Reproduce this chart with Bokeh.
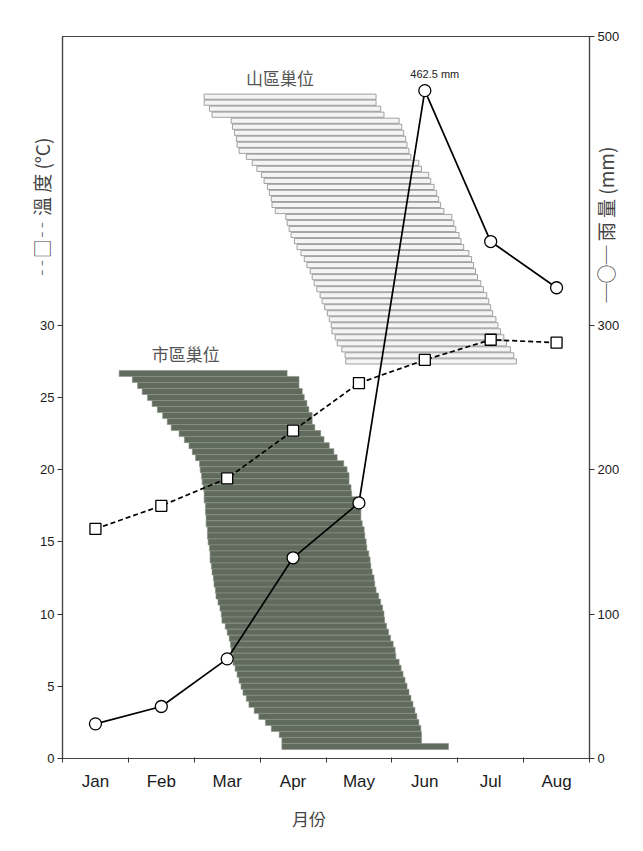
import numpy as np
from bokeh.plotting import figure
from bokeh.models import Range1d, LinearAxis, FixedTicker, Label, ColumnDataSource
from bokeh.embed import file_html
from bokeh.resources import INLINE

# ---------------- data ----------------
months = ["Jan", "Feb", "Mar", "Apr", "May", "Jun", "Jul", "Aug"]
temperature = [15.9, 17.5, 19.4, 22.7, 26.0, 27.6, 29.0, 28.8]      # deg C
rainfall = [24, 36, 69, 139, 177, 462.5, 358, 326]                   # mm

# nesting periods, in months since 1 Jan (top row first)
mountain_start = [2.15, 2.15, 2.23, 2.27, 2.56, 2.58, 2.61, 2.64, 2.65, 2.68,
                  2.79, 2.88, 2.95, 3.02, 3.06, 3.11, 3.14, 3.17, 3.18, 3.23,
                  3.39, 3.41, 3.44, 3.47, 3.52, 3.56, 3.62, 3.67, 3.71, 3.76,
                  3.79, 3.82, 3.86, 3.91, 3.94, 3.98, 4.02, 4.05, 4.08, 4.09,
                  4.14, 4.17, 4.24, 4.29, 4.30]
mountain_end = [4.76, 4.76, 4.83, 4.88, 5.11, 5.15, 5.18, 5.21, 5.23, 5.26,
                5.29, 5.41, 5.45, 5.56, 5.59, 5.64, 5.68, 5.71, 5.74, 5.79,
                5.91, 5.94, 5.97, 6.02, 6.05, 6.09, 6.17, 6.21, 6.24, 6.27,
                6.30, 6.35, 6.39, 6.44, 6.47, 6.50, 6.53, 6.58, 6.61, 6.65,
                6.70, 6.74, 6.80, 6.85, 6.89]
city_start = [0.86, 1.06, 1.14, 1.21, 1.29, 1.36, 1.44, 1.52, 1.59, 1.65,
              1.77, 1.85, 1.92, 1.97, 2.02, 2.08, 2.09, 2.11, 2.12, 2.14,
              2.15, 2.15, 2.17, 2.17, 2.18, 2.18, 2.20, 2.20, 2.21, 2.23,
              2.24, 2.24, 2.26, 2.27, 2.29, 2.30, 2.32, 2.33, 2.36, 2.39,
              2.41, 2.42, 2.47, 2.50, 2.53, 2.55, 2.56, 2.58, 2.59, 2.62,
              2.65, 2.68, 2.71, 2.74, 2.79, 2.83, 2.91, 2.98, 3.08, 3.17,
              3.29, 3.33, 3.33]
city_end = [3.41, 3.59, 3.59, 3.64, 3.67, 3.71, 3.74, 3.79, 3.79, 3.83,
            3.92, 3.97, 4.05, 4.12, 4.17, 4.27, 4.32, 4.35, 4.35, 4.38,
            4.39, 4.47, 4.50, 4.53, 4.53, 4.55, 4.58, 4.59, 4.61, 4.62,
            4.65, 4.67, 4.68, 4.70, 4.73, 4.74, 4.76, 4.80, 4.83, 4.86,
            4.88, 4.89, 4.92, 4.95, 4.98, 5.02, 5.05, 5.06, 5.11, 5.14,
            5.17, 5.20, 5.23, 5.26, 5.29, 5.32, 5.35, 5.38, 5.41, 5.44,
            5.45, 5.45, 5.86]

temp_ticks = [0, 5, 10, 15, 20, 25, 30]
rain_ticks = [0, 100, 200, 300, 500]

temp_title = "╌□╌ 溫 度 (°C)"
rain_title = "─○─ 雨 量 (mm)"
x_title = "月份"

LATIN = "Liberation Sans"
CJK = "Noto Sans CJK TC"
PAD = "\u3000"   # ideographic space, used to slide axis titles along their axis

# ---------------- figure ----------------
p = figure(width=640, height=845,
           x_range=Range1d(0, 8), y_range=Range1d(0, 50),
           output_backend="svg", toolbar_location=None,
           min_border_left=62, min_border_right=51,
           min_border_top=36, min_border_bottom=87,
           background_fill_color="white", border_fill_color="white",
           outline_line_color="#444444", outline_line_width=1.2)
p.extra_y_ranges = {"rain": Range1d(0, 500), "row": Range1d(0, 120)}
p.xgrid.visible = False
p.ygrid.visible = False

xpos = [i + 0.5 for i in range(len(months))]


def style_ticks(ax, size):
    ax.axis_line_color = "#444444"
    ax.axis_line_width = 1.2
    ax.major_label_text_font = LATIN
    ax.major_label_text_font_size = size
    ax.major_label_text_color = "#1a1a1a"


def title_axis(ax, text, standoff, size):
    ax.ticker = FixedTicker(ticks=[], minor_ticks=[])
    ax.axis_line_color = None
    ax.major_tick_line_color = None
    ax.minor_tick_line_color = None
    ax.major_label_text_font_size = "0px"
    ax.axis_label = text
    ax.axis_label_text_font = CJK
    ax.axis_label_text_font_size = size
    ax.axis_label_text_font_style = "normal"
    ax.axis_label_text_color = "#444444"
    ax.axis_label_standoff = standoff


# x axis: labels at month centres, ticks at month boundaries
xa = p.xaxis[0]
xa.ticker = FixedTicker(ticks=xpos, minor_ticks=list(range(len(months) + 1)))
xa.major_label_overrides = {x: m for x, m in zip(xpos, months)}
xa.major_tick_line_color = None
xa.major_tick_out = 0
xa.major_tick_in = 0
xa.minor_tick_out = 4
xa.minor_tick_in = 1
xa.minor_tick_line_color = "#333333"
xa.major_label_standoff = 9
style_ticks(xa, "17px")

# left axis: temperature
ya = p.yaxis[0]
ya.ticker = FixedTicker(ticks=temp_ticks, minor_ticks=[])
ya.major_tick_out = 5
ya.major_tick_in = 0
ya.major_tick_line_color = "#333333"
ya.major_label_standoff = 3
style_ticks(ya, "13px")

# right axis: rainfall
ra = LinearAxis(y_range_name="rain",
                ticker=FixedTicker(ticks=rain_ticks, minor_ticks=[]))
ra.major_tick_out = 5
ra.major_tick_in = 0
ra.major_tick_line_color = "#333333"
ra.major_label_standoff = 3
style_ticks(ra, "13px")
p.add_layout(ra, "right")

# titles (with line keys) on label-only axes
lt = LinearAxis()
title_axis(lt, PAD * 20 + temp_title, -17, "19px")
p.add_layout(lt, "left")

rt = LinearAxis(y_range_name="rain")
title_axis(rt, PAD * 5 + rain_title, -17, "19px")
rt.axis_label_orientation = np.pi / 2
p.add_layout(rt, "right")

bt = LinearAxis()
title_axis(bt, x_title + PAD * 2, 12, "17px")
p.add_layout(bt, "below")

# ---------------- nest bars ----------------
m_rows = [110 - i for i in range(len(mountain_start))]
c_rows = [64 - i for i in range(len(city_start))]

p.hbar(y="y", left="left", right="right", height=0.86,
       source=ColumnDataSource(dict(y=m_rows, left=mountain_start, right=mountain_end)),
       y_range_name="row", fill_color="#f4f4f4", line_color="#8c8c8c", line_width=0.8)
p.hbar(y="y", left="left", right="right", height=1.0,
       source=ColumnDataSource(dict(y=c_rows, left=city_start, right=city_end)),
       y_range_name="row", fill_color="#606b5d", line_color="#8b9488", line_width=0.6)

# ---------------- lines ----------------
p.line(xpos, temperature, line_color="black", line_width=1.7, line_dash="5 3")
p.scatter(xpos, temperature, marker="square", size=11, fill_color="white",
          line_color="black", line_width=1.3)
p.line(xpos, rainfall, y_range_name="rain", line_color="black", line_width=1.7)
p.scatter(xpos, rainfall, y_range_name="rain", marker="circle", size=12,
          fill_color="white", line_color="black", line_width=1.3)

# ---------------- texts ----------------
p.add_layout(Label(x=xpos[5], y=rainfall[5], y_range_name="rain",
                   text="462.5 mm", x_offset=10, y_offset=11,
                   text_align="center", text_baseline="bottom",
                   text_font=LATIN, text_font_size="11px", text_color="#222222"))
p.add_layout(Label(x=3.3, y=110.5, y_range_name="row", text="山區巢位",
                   y_offset=4, text_align="center", text_baseline="bottom",
                   text_font=CJK, text_font_size="17px", text_color="#555555"))
p.add_layout(Label(x=1.87, y=64.5, y_range_name="row", text="市區巢位",
                   y_offset=4, text_align="center", text_baseline="bottom",
                   text_font=CJK, text_font_size="17px", text_color="#555555"))

open("out.html", "w").write(file_html(p, INLINE))
